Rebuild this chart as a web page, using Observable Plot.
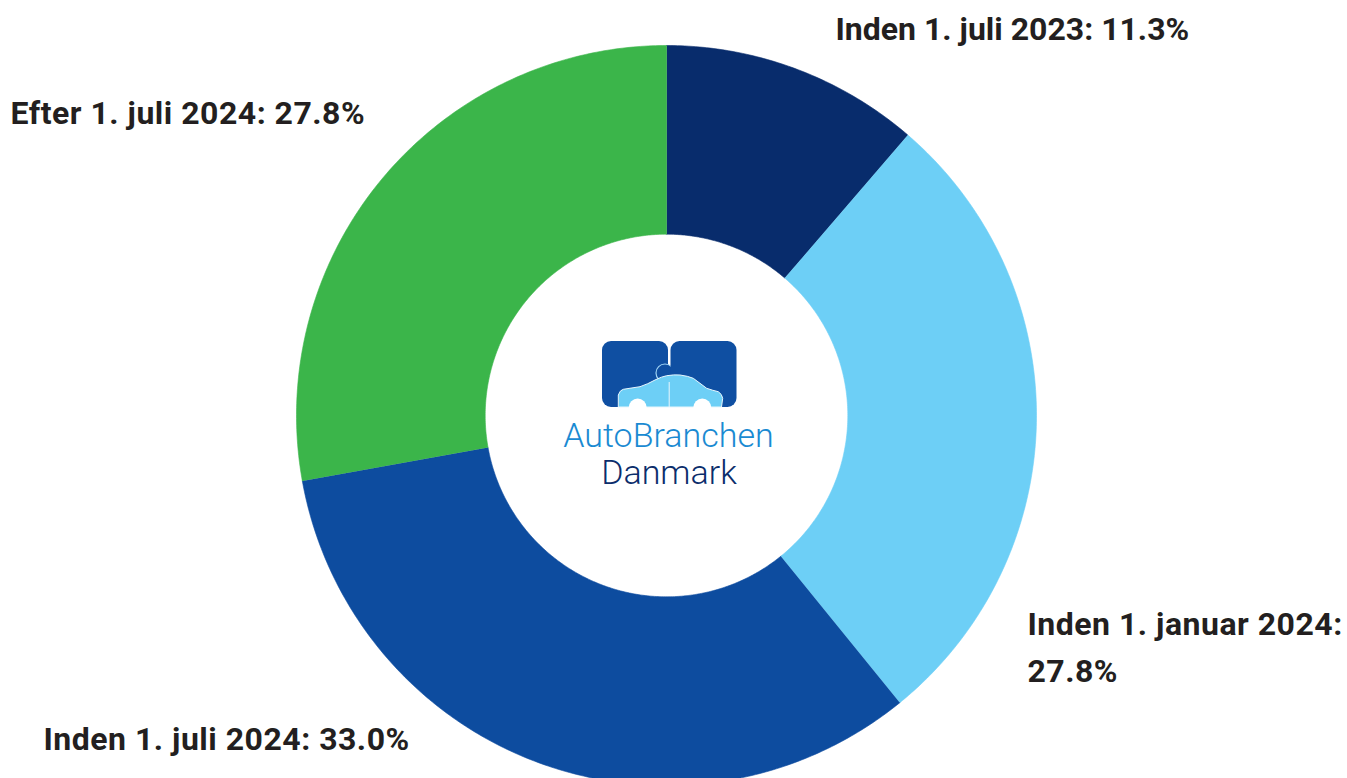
<!DOCTYPE html>
<html><head><meta charset="utf-8">
<script src="https://cdn.jsdelivr.net/npm/d3@7"></script>
<script src="https://cdn.jsdelivr.net/npm/@observablehq/plot@0.6"></script>
<style>
body{margin:0;background:#fff;overflow:hidden}
#chart{width:1347px;height:778px}
</style>
</head><body><div id="chart"></div>
<script>
// ---- data ----
const categories = ["Inden 1. juli 2023", "Inden 1. januar 2024", "Inden 1. juli 2024", "Efter 1. juli 2024"];
const shares = [11.3, 27.8, 33.0, 27.8];
const colors = ["#082c6c", "#6dcff6", "#0d4c9f", "#3bb54a"];

// ---- geometry (derived) ----
const W = 1347, H = 778;
const cx = 666, cy = 415, R = 370;      // pixel placement of the donut
const innerRatio = 0.49;

const pie = d3.pie().sort(null).value(d => d.value)(categories.map((c, i) => ({cat: c, value: shares[i]})));
const polys = [];
for (const p of pie) {
  const n = Math.max(8, Math.ceil((p.endAngle - p.startAngle) / 0.01));
  let k = 0;
  for (let j = 0; j <= n; j++) {
    const a = p.startAngle + (p.endAngle - p.startAngle) * j / n;
    polys.push({cat: p.data.cat, k: k++, x: Math.sin(a), y: Math.cos(a)});
  }
  for (let j = n; j >= 0; j--) {
    const a = p.startAngle + (p.endAngle - p.startAngle) * j / n;
    polys.push({cat: p.data.cat, k: k++, x: innerRatio * Math.sin(a), y: innerRatio * Math.cos(a)});
  }
}

const fmt = (i) => `${categories[i]}:${i === 1 ? "\n" : " "}${shares[i].toFixed(1)}%`;

const labelStyle = {fontFamily: "Roboto, sans-serif", fontWeight: 700, fontSize: 32, fill: "#231f20",
  frameAnchor: "top-left", textAnchor: "start", lineAnchor: "top", lineHeight: 1.47};

function logo(index, scales) {
  const g = d3.create("svg:g").attr("transform", `translate(${scales.x(0)},${scales.y(0)})`);
  const dark = "#0f4fa2", light = "#6dcff6";
  g.append("rect").attr("x", -64).attr("y", -74).attr("width", 66).attr("height", 66).attr("rx", 9).attr("fill", dark);
  g.append("circle").attr("cx", -1).attr("cy", -42).attr("r", 9).attr("fill", dark).attr("stroke", "#9fd3f3").attr("stroke-width", 1.2);
  g.append("rect").attr("x", 4.5).attr("y", -74).attr("width", 66).attr("height", 66).attr("rx", 9).attr("fill", dark);
  g.append("path")
    .attr("d", "M-47.7,-8 L-47.7,-20 Q-46,-25 -42.7,-25.7 L-26,-28.3 Q-18,-31 -11,-35 Q-4,-38.5 0.7,-39.3 Q8,-40.5 14,-40 Q22,-39 27.3,-36.7 L40.7,-26.7 Q47,-24.5 52.3,-23.3 Q56,-21 56.7,-16.7 L55.5,-8 Z")
    .attr("fill", light).attr("stroke", "#e8f6fd").attr("stroke-width", 1);
  g.append("line").attr("x1", 3.2).attr("x2", 3.2).attr("y1", -33).attr("y2", -8).attr("stroke", "#e8f6fd").attr("stroke-width", 1);
  g.append("circle").attr("cx", -28.3).attr("cy", -7.5).attr("r", 9).attr("fill", "#fff");
  g.append("circle").attr("cx", 36.3).attr("cy", -7.5).attr("r", 9).attr("fill", "#fff");
  g.append("text").attr("x", 2.5).attr("y", 32).attr("text-anchor", "middle")
    .attr("font-family", "Roboto, sans-serif").attr("font-weight", 300).attr("font-size", 34)
    .attr("fill", "#1a8ad2").text("AutoBranchen");
  g.append("text").attr("x", 3).attr("y", 69).attr("text-anchor", "middle")
    .attr("font-family", "Roboto, sans-serif").attr("font-weight", 300).attr("font-size", 34)
    .attr("fill", "#0b2d6b").text("Danmark");
  return g.node();
}

const chart = Plot.plot({
  width: W, height: H,
  margin: 0,
  x: {domain: [-cx / R, (W - cx) / R], axis: null},
  y: {domain: [(cy - H) / R, cy / R], axis: null},
  color: {domain: categories, range: colors},
  style: {background: "#fff", overflow: "hidden"},
  marks: [
    Plot.line(polys, {x: "x", y: "y", z: "cat", fill: "cat", stroke: "cat", strokeWidth: 0.6, curve: "linear"}),
    logo,
    Plot.text([fmt(0)], {...labelStyle, text: d => d, dx: 835, dy: 6}),
    Plot.text([fmt(1)], {...labelStyle, text: d => d, dx: 1027, dy: 601, className: "spaced"}),
    Plot.text([fmt(2)], {...labelStyle, text: d => d, dx: 43, dy: 716, className: "spaced"}),
    Plot.text([fmt(3)], {...labelStyle, text: d => d, dx: 10, dy: 90, className: "spaced"})
  ]
});
chart.querySelectorAll(".spaced text").forEach(t => { t.style.letterSpacing = "0.5px"; });
document.getElementById("chart").appendChild(chart);
</script>
</body></html>
